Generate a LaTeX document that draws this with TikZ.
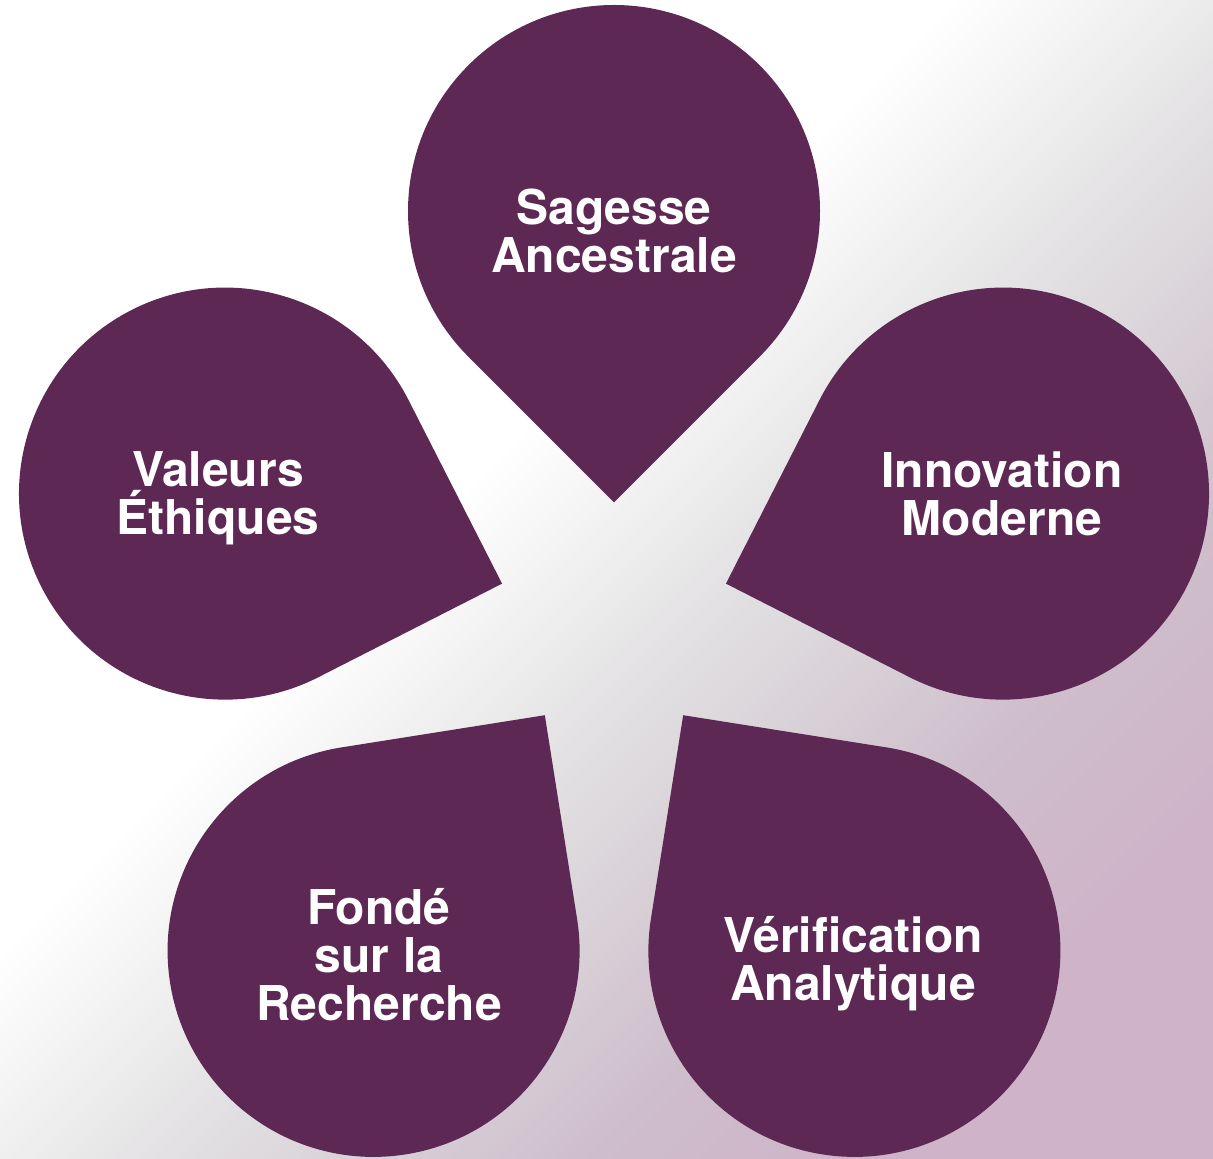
\documentclass[tikz,border=0pt]{standalone}
\usepackage{fontspec}
\setmainfont{TeX Gyre Heros}
\definecolor{plum}{HTML}{5E2855}
\definecolor{bgA}{HTML}{EDEDED}
\definecolor{bgB}{HTML}{E4E2E4}
\definecolor{bgC}{HTML}{DCD8DC}
\definecolor{bgD}{HTML}{CEBDCB}
\definecolor{bgE}{HTML}{CFB4C9}
\pgfdeclarehorizontalshading{bgshade}{100bp}{color(0bp)=(white); color(43bp)=(white); color(50bp)=(bgA); color(53.5bp)=(bgB); color(57.5bp)=(bgC); color(67bp)=(bgD); color(75bp)=(bgE); color(100bp)=(bgE)}
\tikzset{
  petal/.style={fill=plum},
  petaltext/.style={text=white, align=center, font=\fontsize{48bp}{48bp}\selectfont\bfseries, inner sep=0pt},
}
\newcommand{\petalshape}[1]{%
  \begin{scope}[shift={(614,539)}, rotate=#1]
    \fill[petal] (117.7,0) -- ({409-145.66},145.66) arc[start angle=135, end angle=-135, radius=206] -- cycle;
  \end{scope}}
\begin{document}
\begin{tikzpicture}[x=1bp,y=1bp]
  \useasboundingbox (0,0) rectangle (1213,1159);
  \path[shading=bgshade, shading angle=-45] (0,0) rectangle (1213,1159);
  \petalshape{90}
  \petalshape{162}
  \petalshape{18}
  \petalshape{234}
  \petalshape{306}
  \node[petaltext] (sagesse) at (614,928) {Sagesse\\Ancestrale};
  \node[petaltext] (valeurs) at (218,661) {Valeurs\\Éthiques};
  \node[petaltext] (innovation) at (1002,665) {Innovation\\Moderne};
  \node[petaltext] (fonde) at (379,204) {Fondé\\sur la\\Recherche};
  \node[petaltext] (verif) at (853,195) {Vérification\\Analytique};
\end{tikzpicture}
\end{document}
